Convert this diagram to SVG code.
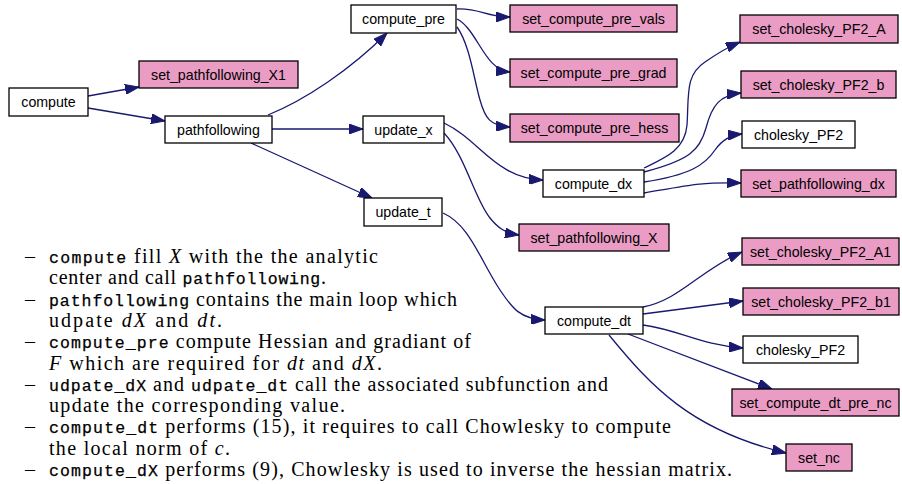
<svg xmlns="http://www.w3.org/2000/svg" width="902" height="484" viewBox="0 0 902 484">
<style>
.n rect{stroke:#000;stroke-width:1.3;fill:#fff}
.n.p rect{fill:#ea9cc5}
.n text{font-family:"Liberation Sans",Arial,sans-serif;font-size:14.2px;text-anchor:middle;fill:#000}
.e path{fill:none;stroke:#191970;stroke-width:1.3;marker-end:url(#ah)}
.t{font-family:"Liberation Serif","Times New Roman",serif;font-size:20px;fill:#000}
.tt{font-family:"Liberation Mono","Courier New",monospace;font-size:16.5px;stroke:#000;stroke-width:0.25}
.i{font-style:italic}
</style>
<defs>
<marker id="ah" markerUnits="userSpaceOnUse" viewBox="0 0 14 10" refX="14" refY="5" markerWidth="14" markerHeight="10" orient="auto">
<path d="M0,0 L14,5 L0,10 z" fill="#191970" stroke="#191970" stroke-width="1"/>
</marker>
</defs>
<g id="edges" class="e">
<path d="M88,96 L139,87"/>
<path d="M88,108 L165,121"/>
<path d="M268,115 C305,100 350,70 387,33"/>
<path d="M272,129 L363,129"/>
<path d="M251,143 L372,198"/>
<path d="M457,9 C480,8 485,17 510,17"/>
<path d="M457,19 C478,30 484,70 510,72"/>
<path d="M457,27 C470,45 474,80 480,100 C485,118 490,126 510,127"/>
<path d="M444,123 C480,140 495,178 543,180"/>
<path d="M444,133 C465,155 475,200 490,218 C498,228 505,233 519,235"/>
<path d="M443,213 C470,225 480,260 500,290 C512,308 520,319 545,320"/>
<path d="M644,168 C665,158 685,150 687,125 C689,95 685,75 705,62 C718,53 728,47 740,42"/>
<path d="M644,172 C690,160 700,150 706,128 C712,105 720,95 741,93"/>
<path d="M644,182 C690,175 705,165 715,150 C722,140 730,135 742,134"/>
<path d="M644,193 C690,185 700,182 741,183"/>
<path d="M643,307 C680,300 700,270 742,252"/>
<path d="M643,314 L743,301"/>
<path d="M643,325 C680,330 700,345 743,348"/>
<path d="M628,334 L772,389"/>
<path d="M609,335 C650,385 690,430 786,453"/>
</g>
<g id="compute" class="n"><rect x="9" y="88" width="79" height="28"/><text x="48.5" y="107">compute</text></g>
<g id="set_pathfollowing_X1" class="n p"><rect x="139" y="61" width="159" height="27"/><text x="218.5" y="79.5">set_pathfollowing_X1</text></g>
<g id="pathfollowing" class="n"><rect x="165" y="116" width="107" height="27"/><text x="218.5" y="134.5">pathfollowing</text></g>
<g id="compute_pre" class="n"><rect x="351" y="5" width="105" height="28"/><text x="403.5" y="24">compute_pre</text></g>
<g id="update_x" class="n"><rect x="363" y="116" width="81" height="27"/><text x="403.5" y="134.5">update_x</text></g>
<g id="update_t" class="n"><rect x="364" y="198" width="78" height="28"/><text x="403" y="217">update_t</text></g>
<g id="set_compute_pre_vals" class="n p"><rect x="510" y="5" width="167" height="27"/><text x="593.5" y="23.5">set_compute_pre_vals</text></g>
<g id="set_compute_pre_grad" class="n p"><rect x="510" y="59" width="167" height="28"/><text x="593.5" y="78">set_compute_pre_grad</text></g>
<g id="set_compute_pre_hess" class="n p"><rect x="510" y="114" width="169" height="28"/><text x="594.5" y="133">set_compute_pre_hess</text></g>
<g id="compute_dx" class="n"><rect x="543" y="170" width="101" height="27"/><text x="593.5" y="188.5">compute_dx</text></g>
<g id="set_pathfollowing_X" class="n p"><rect x="519" y="224" width="150" height="27"/><text x="594" y="242.5">set_pathfollowing_X</text></g>
<g id="compute_dt" class="n"><rect x="545" y="307" width="98" height="27"/><text x="594" y="325.5">compute_dt</text></g>
<g id="set_cholesky_PF2_A" class="n p"><rect x="740" y="15" width="158" height="28"/><text x="819" y="34">set_cholesky_PF2_A</text></g>
<g id="set_cholesky_PF2_b" class="n p"><rect x="741" y="71" width="155" height="27"/><text x="818.5" y="89.5">set_cholesky_PF2_b</text></g>
<g id="cholesky_PF2" class="n"><rect x="742" y="121" width="113" height="27"/><text x="798.5" y="139.5">cholesky_PF2</text></g>
<g id="set_pathfollowing_dx" class="n p"><rect x="741" y="170" width="155" height="27"/><text x="818.5" y="188.5">set_pathfollowing_dx</text></g>
<g id="set_cholesky_PF2_A1" class="n p"><rect x="742" y="238" width="157" height="27"/><text x="820.5" y="256.5">set_cholesky_PF2_A1</text></g>
<g id="set_cholesky_PF2_b1" class="n p"><rect x="743" y="288" width="156" height="27"/><text x="821" y="306.5">set_cholesky_PF2_b1</text></g>
<g id="cholesky_PF2_2" class="n"><rect x="743" y="336" width="115" height="27"/><text x="800.5" y="354.5">cholesky_PF2</text></g>
<g id="set_compute_dt_pre_nc" class="n p"><rect x="732" y="389" width="167" height="27"/><text x="815.5" y="407.5">set_compute_dt_pre_nc</text></g>
<g id="set_nc" class="n p"><rect x="786" y="444" width="66" height="27"/><text x="819" y="462.5">set_nc</text></g>
<g id="notes" class="t">
<text x="25" y="263">–</text>
<text x="25" y="305.6">–</text>
<text x="25" y="348.2">–</text>
<text x="25" y="390.8">–</text>
<text x="25" y="433.4">–</text>
<text x="25" y="476">–</text>
<text x="49" y="263" textLength="329" lengthAdjust="spacing"><tspan class="tt">compute</tspan> fill <tspan class="i">X</tspan> with the the analytic</text>
<text x="49" y="284.3" textLength="277" lengthAdjust="spacing">center and call <tspan class="tt">pathfollowing</tspan>.</text>
<text x="49" y="305.6" textLength="408" lengthAdjust="spacing"><tspan class="tt">pathfollowing</tspan> contains the main loop which</text>
<text x="49" y="326.9" textLength="173" lengthAdjust="spacing">udpate <tspan class="i">dX</tspan> and <tspan class="i">dt</tspan>.</text>
<text x="49" y="348.2" textLength="422" lengthAdjust="spacing"><tspan class="tt">compute_pre</tspan> compute Hessian and gradiant of</text>
<text x="49" y="369.5" textLength="333" lengthAdjust="spacing"><tspan class="i">F</tspan> which are required for <tspan class="i">dt</tspan> and <tspan class="i">dX</tspan>.</text>
<text x="49" y="390.8" textLength="559" lengthAdjust="spacing"><tspan class="tt">udpate_dX</tspan> and <tspan class="tt">udpate_dt</tspan> call the associated subfunction and</text>
<text x="49" y="412.1" textLength="296" lengthAdjust="spacing">update the corresponding value.</text>
<text x="49" y="433.4" textLength="622" lengthAdjust="spacing"><tspan class="tt">compute_dt</tspan> performs (15), it requires to call Chowlesky to compute</text>
<text x="49" y="454.7" textLength="181" lengthAdjust="spacing">the local norm of <tspan class="i">c</tspan>.</text>
<text x="49" y="476" textLength="683" lengthAdjust="spacing"><tspan class="tt">compute_dX</tspan> performs (9), Chowlesky is used to inverse the hessian matrix.</text>
</g>
</svg>
